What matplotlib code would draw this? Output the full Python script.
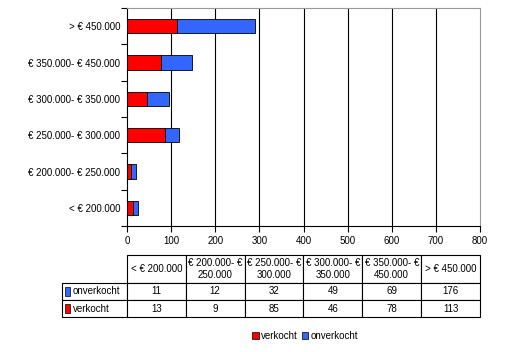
import matplotlib
matplotlib.use("Agg")
import numpy as np
from matplotlib import pyplot as plt
from matplotlib.patches import Rectangle, Patch

plt.rcParams['font.family'] = ['Liberation Sans', 'DejaVu Sans']

# data
categories = ['< € 200.000', '€ 200.000- € 250.000', '€ 250.000- € 300.000',
              '€ 300.000- € 350.000', '€ 350.000- € 450.000', '> € 450.000']
col_heads = ['< € 200.000', '€ 200.000- €\n250.000', '€ 250.000- €\n300.000',
             '€ 300.000- €\n350.000', '€ 350.000- €\n450.000', '> € 450.000']
verkocht = [13, 9, 85, 46, 78, 113]
onverkocht = [11, 12, 32, 49, 69, 176]

red = '#ff0000'
blue = '#3366ff'

fig = plt.figure(figsize=(5.12, 3.52), dpi=100)
ax = fig.add_axes([127/512, 1-226/352, (480-127)/512, (226-8)/352])

y = np.arange(len(categories))
ax.barh(y, verkocht, height=0.4, color=red, edgecolor='black', linewidth=0.6)
ax.barh(y, onverkocht, left=verkocht, height=0.4, color=blue, edgecolor='black', linewidth=0.6)

ax.set_xlim(0, 800)
ax.set_ylim(-0.5, 5.5)
ax.set_xticks(range(0, 801, 100))
ax.set_yticks(y)
ax.set_yticklabels(categories)
ax.set_yticks(np.arange(-0.5, 6, 1), minor=True)
ax.tick_params(axis='y', which='major', length=0, pad=5, labelsize=7)
ax.tick_params(axis='y', which='minor', length=4, width=0.8)
ax.tick_params(axis='x', length=4, width=0.8, labelsize=7, pad=3)
for v in range(100, 800, 100):
    ax.axvline(v, color='black', linewidth=0.8, zorder=0)
ax.spines['top'].set_color('#999999')
ax.spines['right'].set_color('#999999')
ax.spines['left'].set_linewidth(0.8)
ax.spines['bottom'].set_linewidth(0.8)

# data table below the chart
tax = fig.add_axes([62/512, 1-317/352, (480-62)/512, (317-255)/352])
tax.axis('off')
cell_text = [[''] + col_heads,
             ['onverkocht'] + [str(v) for v in onverkocht],
             ['verkocht'] + [str(v) for v in verkocht]]
tbl = tax.table(cellText=cell_text, bbox=[0, 0, 1, 1], cellLoc='center')
tbl.auto_set_font_size(False)
tbl.set_fontsize(7)
widths = [65] + [59] * 6
heights = [28, 17, 17]
for (r, c), cell in tbl.get_celld().items():
    cell.set_width(widths[c])
    cell.set_height(heights[r])
    cell.set_linewidth(0.8)
    if r == 0 and c == 0:
        cell.visible_edges = ''
    if c == 0 and r > 0:
        cell.get_text().set_ha('left')
        cell.PAD = 0.17
tbl.set_fontsize(7)

# colour keys in the row labels
for r, col in [(1, blue), (2, red)]:
    yy = 1 - (28 + 17 * (r - 1) + 8.5) / 62
    tax.add_patch(Rectangle((0.006, yy - 0.08), 0.014, 0.16, facecolor=col,
                            edgecolor='black', linewidth=0.5,
                            transform=tax.transAxes, clip_on=False))

handles = [Patch(facecolor=red, edgecolor='black', linewidth=0.5, label='verkocht'),
           Patch(facecolor=blue, edgecolor='black', linewidth=0.5, label='onverkocht')]
fig.legend(handles=handles, loc='center', bbox_to_anchor=(305/512, 1-336/352),
           ncol=2, frameon=False, fontsize=7, handlelength=0.7, handleheight=0.7,
           handletextpad=0.2, columnspacing=0.4)

fig.savefig('out.png', dpi=100)
